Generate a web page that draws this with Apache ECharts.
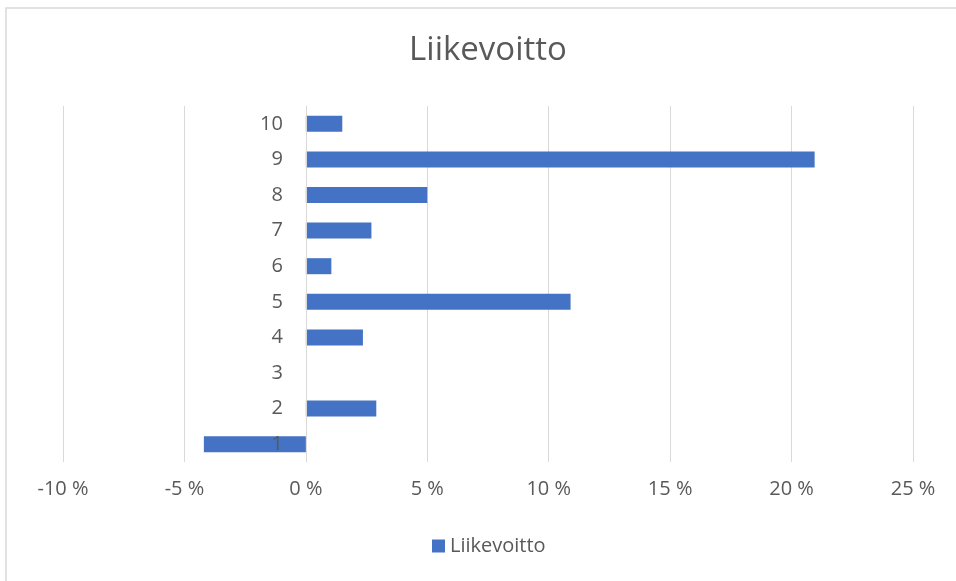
<!DOCTYPE html>
<html>
<head>
<meta charset="utf-8">
<style>
  html, body { margin: 0; padding: 0; background: #ffffff; }
  #chart { width: 956px; height: 581px; }
</style>
<script src="https://cdn.jsdelivr.net/npm/echarts@6/dist/echarts.min.js"></script>
</head>
<body>
<div id="chart"></div>
<script>
// Company numbers 1..10 and their operating profit margin (%)
const categories = ['1', '2', '3', '4', '5', '6', '7', '8', '9', '10'];
const liikevoitto = [-4.2, 2.9, 0, 2.35, 10.9, 1.05, 2.7, 5.0, 20.95, 1.5];
const seriesName = 'Liikevoitto';
const xTicks = { min: -10, max: 25, step: 5 };

const textColor = '#595959';
const gridColor = '#d9d9d9';
const fontFamily = '"Open Sans", "Noto Sans", sans-serif';

const W = 956, H = 581;
const grid = { left: 63, right: 43, top: 106, bottom: 119 };
const plotWidth = W - grid.left - grid.right;
// the category axis sits on the zero line of the value axis
const zeroOffset = -(0 - xTicks.min) / (xTicks.max - xTicks.min) * plotWidth;

const chart = echarts.init(document.getElementById('chart'), null, { renderer: 'canvas' });

chart.setOption({
  backgroundColor: '#ffffff',
  animation: false,
  title: {
    text: seriesName,
    left: 483,
    textAlign: 'center',
    top: 29,
    textStyle: { color: textColor, fontSize: 33, fontWeight: 'normal', fontFamily: fontFamily }
  },
  graphic: [{
    type: 'rect',
    shape: { x: 6, y: 8, width: 1000, height: 1000 },
    style: { fill: 'none', stroke: gridColor, lineWidth: 1.5 },
    silent: true
  }],
  legend: {
    data: [seriesName],
    left: 427,
    top: 531,
    icon: 'rect',
    itemWidth: 13,
    itemHeight: 13,
    textStyle: { color: textColor, fontSize: 20, fontFamily: fontFamily }
  },
  grid: { left: grid.left, right: grid.right, top: grid.top, bottom: grid.bottom, containLabel: false },
  xAxis: {
    type: 'value',
    min: xTicks.min,
    max: xTicks.max,
    interval: xTicks.step,
    axisLine: { show: false },
    axisTick: { show: false },
    splitLine: { show: true, lineStyle: { color: gridColor, width: 1 } },
    axisLabel: {
      color: textColor,
      fontSize: 20,
      fontFamily: fontFamily,
      margin: 17,
      formatter: v => v + '\u00a0%'
    }
  },
  yAxis: {
    type: 'category',
    data: categories,
    offset: zeroOffset,
    z: 10,
    axisLine: { show: true, onZero: false, lineStyle: { color: gridColor, width: 1 } },
    axisTick: { show: false },
    splitLine: { show: false },
    axisLabel: { color: textColor, fontSize: 20, fontFamily: fontFamily, margin: 23 }
  },
  series: [{
    name: seriesName,
    type: 'bar',
    data: liikevoitto,
    barCategoryGap: '55%',
    itemStyle: { color: '#4472c4' }
  }]
});
</script>
</body>
</html>
